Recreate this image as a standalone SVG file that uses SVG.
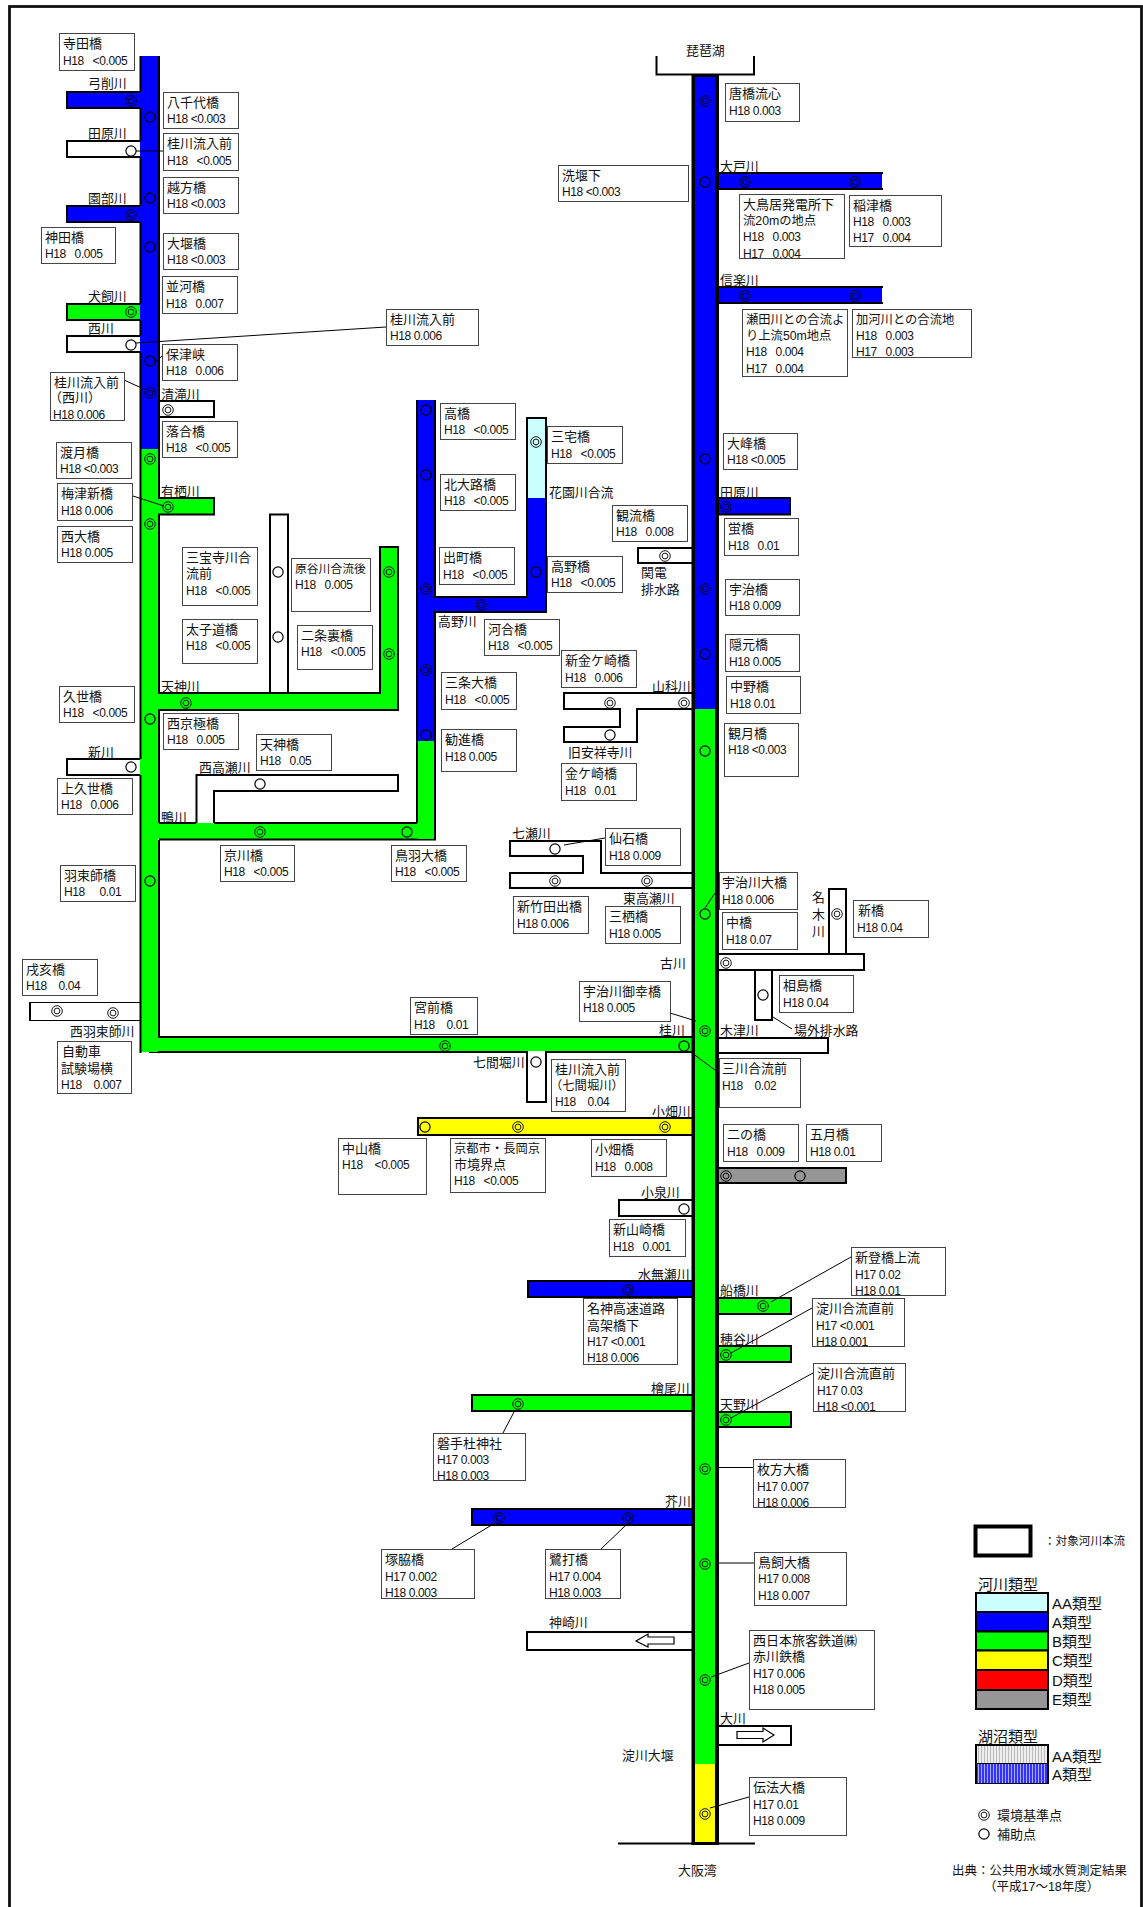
<svg xmlns="http://www.w3.org/2000/svg" width="1143" height="1907" viewBox="0 0 1143 1907">
<style>
text{font-family:"Liberation Sans","Noto Sans CJK JP",sans-serif;fill:#111;white-space:pre}
.n{font-size:13px}
.s{font-size:12.3px}
.v{font-size:12px;letter-spacing:-.4px}
.r{font-size:12.9px}
.l{font-size:15px}
.b{fill:#fff;stroke:#444;stroke-width:1}
.k{stroke:#000;stroke-width:2}
.bl{fill:#00f}.gr{fill:#0f0}.ye{fill:#ff0}.wh{fill:#fff}.cy{fill:#cff}.re{fill:#f00}.gy{fill:#969696}
.ln{fill:none;stroke:#000;stroke-width:2}
.ld{fill:none;stroke:#000;stroke-width:1}
.m{fill:none;stroke:#000}
</style>
<defs>
<g id="d"><circle class="m" r="5.3" stroke-width=".9"/><circle class="m" r="2.9" stroke-width=".9"/></g>
<circle id="o" class="m" r="5.1" stroke-width="1.2"/>
<pattern id="pg" width="3" height="10" patternUnits="userSpaceOnUse"><rect width="3" height="10" fill="#eee"/><rect width="1" height="10" fill="#bbb"/></pattern>
<pattern id="pb" width="3" height="10" patternUnits="userSpaceOnUse"><rect width="3" height="10" fill="#33f"/><rect width="1" height="10" fill="#aaf"/></pattern>
</defs>
<rect width="1143" height="1907" fill="#fff"/>
<rect x="9.5" y="6.5" width="1132" height="1905" fill="none" stroke="#111" stroke-width="2.8"/>
<g id="rivers">
<path class="bl k" d="M67 92H150V108H67Z"/>
<path class="wh k" d="M67 141H150V157H67Z"/>
<path class="bl k" d="M67 206H150V222H67Z"/>
<path class="gr k" d="M67 304H150V320H67Z"/>
<path class="wh k" d="M67 336H150V352H67Z"/>
<path class="wh k" d="M150 401H214V417H150Z"/>
<path class="gr k" d="M150 498H214V514.500H150Z"/>
<path class="wh k" d="M270 514.500H288V700H270Z"/>
<path class="gr k" d="M150 693H380V547H398V710H150Z"/>
<path class="wh k" d="M67 759H150V775H67Z"/>
<path class="wh" d="M30 1002H150V1020H30Z"/>
<path class="ld" d="M30 1002.500H150M30 1020.500H150"/><path class="ln" d="M30 1002V1021"/>
<rect class="gr" x="150" y="823" width="284" height="16"/>
<path class="wh" d="M197 824V775H398V791H214V824Z"/>
<path class="ln" d="M196.500 823V775H398V791H214V823"/>
<rect class="gr" x="197" y="823" width="16" height="3"/>
<path class="ln" d="M159 823H196M214 823H417M159 839.500H436"/>
<path class="bl k" d="M430 597H527V418H546V612H430Z"/>
<rect class="cy" x="528" y="419" width="17" height="79"/>
<path class="gr k" d="M150 1037H700V1052H150Z"/>
<path class="wh" d="M528 1051H545V1101H528Z"/>
<path class="ln" d="M527 1052V1102H546V1052"/>
<rect class="bl" x="140" y="56" width="18" height="393"/>
<rect class="gr" x="140" y="449" width="18" height="603"/>
<path class="ln" d="M140.500 56V92M140.500 108V141M140.500 157V206M140.500 222V304M140.500 320V336M140.500 352V759M140.500 775V1053M159 56V498M159 514V693M159 710V823M159 840V1037"/>
<rect class="bl" x="418" y="400" width="16" height="341"/>
<rect class="gr" x="418" y="741" width="16" height="98"/>
<path class="ln" d="M417 400V823M435 400V597M435 612V840"/>
<path class="wh k" d="M700 548H638V563H700"/>
<path class="wh k" d="M700 693H564V709H620V727H564V742H637V709H700Z"/>
<path class="wh k" d="M700 873H601V841H510V856H583V873H510V888H700Z"/>
<path class="ye k" d="M418 1118H700V1135H418Z"/>
<path class="wh k" d="M619 1200H700V1216H619Z"/>
<path class="bl k" d="M528 1281H700V1297H528Z"/>
<path class="gr k" d="M472 1395H700V1411H472Z"/>
<path class="bl k" d="M472 1509H700V1525H472Z"/>
<path class="wh k" d="M527 1632H700V1650H527Z"/>
<rect class="bl" x="710" y="173" width="172" height="16"/><path class="ln" d="M710 173H883M710 189H883"/>
<rect class="bl" x="710" y="287" width="172" height="16"/><path class="ln" d="M710 287H883M710 303H883"/>
<path class="bl k" d="M710 498H790V514.500H710Z"/>
<path class="wh k" d="M829 889H846V960H829Z"/>
<path class="wh k" d="M755 965H772V1020H755Z"/>
<path class="wh k" d="M710 954H864V970H710Z"/>
<path class="wh k" d="M710 1038H828V1053H710Z"/>
<path class="gy k" d="M710 1168H846V1183H710Z"/>
<path class="gr k" d="M710 1298H791V1314H710Z"/>
<path class="gr k" d="M710 1346H791V1362H710Z"/>
<path class="gr k" d="M710 1412H791V1427H710Z"/>
<path class="wh k" d="M710 1726H791V1745H710Z"/>
<path class="wh" stroke="#000" stroke-width="1.200" d="M636 1641L648 1634V1637H674V1644H648V1647Z"/>
<path class="wh" stroke="#000" stroke-width="1.200" d="M774 1735L763 1728V1731.500H737V1738.500H763V1742Z"/>
<rect x="691.500" y="74" width="27.500" height="1771" fill="#000"/>
<rect class="bl" x="695" y="77" width="20" height="632"/>
<rect class="gr" x="695" y="709" width="20" height="1055"/>
<rect class="ye" x="695" y="1764" width="20" height="78"/>
<path class="ln" d="M656.500 56V74.500H754V56M618 1843.500H755"/>
</g>
<g id="connectors">
<path class="ld" d="M136 151H163M136 343L386 327M162 356L154 363M124 380L146 390M133 496L164 506M605 838L564 845M715 893L705 908M670 1013L696 1021M692 1053L719 1073M773 1017L792 1029M851 1257L771 1302M812 1308L731 1353M813 1373L731 1418M514 1412L503 1433M719 1467.500H753M495 1523L452 1549M625 1526L601 1549M719 1563H754M711 1677L749 1663M710 1808L749 1797"/>
</g>
<g id="markers">
<use href="#d" x="131" y="101"/><use href="#o" x="150" y="117"/>
<use href="#o" x="131" y="151"/><use href="#o" x="150" y="198"/>
<use href="#d" x="131" y="215"/><use href="#o" x="150" y="247"/>
<use href="#d" x="131" y="312"/><use href="#o" x="131" y="345"/>
<use href="#o" x="150" y="361"/><use href="#d" x="150" y="393"/>
<use href="#d" x="168" y="410"/><use href="#d" x="150" y="459"/>
<use href="#d" x="168" y="507"/><use href="#d" x="150" y="524"/>
<use href="#o" x="278" y="572"/><use href="#o" x="278" y="637"/>
<use href="#d" x="389" y="572"/><use href="#d" x="389" y="654"/>
<use href="#d" x="186" y="703"/><use href="#o" x="150" y="719"/>
<use href="#o" x="131" y="767"/><use href="#o" x="260" y="784"/>
<use href="#d" x="260" y="832"/><use href="#o" x="407" y="832"/>
<use href="#o" x="150" y="881"/>
<use href="#d" x="57" y="1011"/><use href="#d" x="113" y="1013"/>
<use href="#o" x="426" y="410"/><use href="#o" x="426" y="475"/>
<use href="#d" x="426" y="589"/><use href="#d" x="426" y="670"/><use href="#o" x="426" y="735"/>
<use href="#d" x="481" y="605"/><use href="#d" x="536" y="442"/><use href="#o" x="536" y="572"/>
<use href="#d" x="705" y="101"/><use href="#o" x="705" y="182"/>
<use href="#d" x="745" y="182"/><use href="#d" x="855" y="182"/>
<use href="#d" x="745" y="296"/><use href="#d" x="855" y="296"/>
<use href="#o" x="705" y="459"/><use href="#d" x="726" y="507"/>
<use href="#d" x="665" y="556"/><use href="#d" x="705" y="589"/><use href="#o" x="705" y="654"/>
<use href="#d" x="610" y="703"/><use href="#d" x="684" y="703"/><use href="#o" x="610" y="735"/>
<use href="#o" x="705" y="751"/>
<use href="#o" x="555" y="849"/><use href="#d" x="555" y="881"/><use href="#d" x="647" y="881"/>
<use href="#o" x="705" y="914"/><use href="#d" x="837" y="914"/><use href="#d" x="726" y="963"/>
<use href="#o" x="763" y="995"/><use href="#d" x="705" y="1031"/>
<use href="#d" x="445" y="1046"/><use href="#o" x="684" y="1046"/><use href="#o" x="536" y="1062"/>
<use href="#o" x="425" y="1127"/><use href="#d" x="518" y="1127"/><use href="#d" x="665" y="1127"/>
<use href="#d" x="726" y="1176"/><use href="#o" x="800" y="1176"/>
<use href="#o" x="684" y="1209"/><use href="#d" x="628" y="1290"/>
<use href="#d" x="763" y="1306"/><use href="#d" x="726" y="1355"/><use href="#d" x="726" y="1420"/>
<use href="#d" x="518" y="1404"/><use href="#d" x="705" y="1469"/>
<use href="#d" x="499" y="1518"/><use href="#d" x="628" y="1518"/>
<use href="#d" x="705" y="1564"/><use href="#d" x="705" y="1680"/><use href="#d" x="705" y="1814"/>
</g>
<g id="river-labels" class="r">
<text x="88" y="88">弓削川</text><text x="88" y="138">田原川</text><text x="88" y="203">園部川</text>
<text x="88" y="301">犬飼川</text><text x="88" y="333">西川</text><text x="161" y="399">清滝川</text>
<text x="161" y="496">有栖川</text><text x="161" y="691">天神川</text><text x="88" y="757">新川</text>
<text x="161" y="822">鴨川</text><text x="199" y="772">西高瀬川</text><text x="438" y="626">高野川</text>
<text x="549" y="497">花園川合流</text><text x="641" y="577">関電</text><text x="641" y="594">排水路</text>
<text x="652" y="691">山科川</text><text x="568" y="757">旧安祥寺川</text><text x="512" y="838">七瀬川</text>
<text x="623" y="903">東高瀬川</text><text x="812" y="902">名</text><text x="812" y="919">木</text><text x="812" y="936">川</text>
<text x="660" y="968">古川</text><text x="720" y="171">大戸川</text><text x="720" y="285">信楽川</text><text x="720" y="497">田原川</text>
<text x="720" y="1035">木津川</text><text x="794" y="1035">場外排水路</text><text x="659" y="1035">桂川</text>
<text x="473" y="1067">七間堀川</text><text x="652" y="1116">小畑川</text><text x="641" y="1197">小泉川</text>
<text x="638" y="1279">水無瀬川</text><text x="720" y="1295">船橋川</text><text x="720" y="1344">穂谷川</text>
<text x="720" y="1409">天野川</text><text x="651" y="1393">檜尾川</text><text x="665" y="1506">芥川</text>
<text x="549" y="1627">神崎川</text><text x="720" y="1723">大川</text><text x="622" y="1760">淀川大堰</text>
<text x="678" y="1875">大阪湾</text><text x="686" y="55">琵琶湖</text><text x="70" y="1036">西羽束師川</text>
</g>
<g id="n01"><rect class="b" x="59.500" y="33.500" width="75" height="37"/><text class="n" x="63" y="48">寺田橋</text><text class="v" x="63" y="65">H18   &lt;0.005</text></g>
<g id="n02"><rect class="b" x="163.500" y="92.500" width="75" height="36"/><text class="n" x="167" y="107">八千代橋</text><text class="v" x="167" y="123">H18 &lt;0.003</text></g>
<g id="n03"><rect class="b" x="163.500" y="133.500" width="75" height="37"/><text class="n" x="167" y="148">桂川流入前</text><text class="v" x="167" y="165">H18   &lt;0.005</text></g>
<g id="n04"><rect class="b" x="163.500" y="177.500" width="75" height="36"/><text class="n" x="167" y="192">越方橋</text><text class="v" x="167" y="208">H18 &lt;0.003</text></g>
<g id="n05"><rect class="b" x="41.500" y="227.500" width="74" height="36"/><text class="n" x="45" y="242">神田橋</text><text class="v" x="45" y="258">H18   0.005</text></g>
<g id="n06"><rect class="b" x="163.500" y="233.500" width="75" height="36"/><text class="n" x="167" y="248">大堰橋</text><text class="v" x="167" y="264">H18 &lt;0.003</text></g>
<g id="n07"><rect class="b" x="162.500" y="276.500" width="75" height="37"/><text class="n" x="166" y="291">並河橋</text><text class="v" x="166" y="308">H18   0.007</text></g>
<g id="n08"><rect class="b" x="386.500" y="309.500" width="92" height="36"/><text class="n" x="390" y="324">桂川流入前</text><text class="v" x="390" y="340">H18 0.006</text></g>
<g id="n09"><rect class="b" x="162.500" y="344.500" width="75" height="36"/><text class="n" x="166" y="359">保津峡</text><text class="v" x="166" y="375">H18   0.006</text></g>
<g id="n10"><rect class="b" x="50.500" y="372.500" width="74" height="48"/><text class="n" x="54" y="387">桂川流入前</text><text class="n" x="49" y="402">（西川）</text><text class="v" x="53" y="419">H18 0.006</text></g>
<g id="n11"><rect class="b" x="162.500" y="421.500" width="75" height="36"/><text class="n" x="166" y="436">落合橋</text><text class="v" x="166" y="452">H18   &lt;0.005</text></g>
<g id="n12"><rect class="b" x="56.500" y="442.500" width="75" height="36"/><text class="n" x="60" y="457">渡月橋</text><text class="v" x="60" y="473">H18 &lt;0.003</text></g>
<g id="n13"><rect class="b" x="57.500" y="483.500" width="75" height="37"/><text class="n" x="61" y="498">梅津新橋</text><text class="v" x="61" y="515">H18 0.006</text></g>
<g id="n14"><rect class="b" x="57.500" y="526.500" width="75" height="36"/><text class="n" x="61" y="541">西大橋</text><text class="v" x="61" y="557">H18 0.005</text></g>
<g id="n15"><rect class="b" x="182.500" y="547.500" width="75" height="58"/><text class="n" x="186" y="562">三宝寺川合</text><text class="n" x="186" y="578">流前</text><text class="v" x="186" y="595">H18   &lt;0.005</text></g>
<g id="n16"><rect class="b" x="182.500" y="619.500" width="75" height="44"/><text class="n" x="186" y="634">太子道橋</text><text class="v" x="186" y="650">H18   &lt;0.005</text></g>
<g id="n17"><rect class="b" x="291.500" y="558.500" width="79" height="53"/><text class="n" x="295" y="573" style="font-size:11.800px">原谷川合流後</text><text class="v" x="295" y="589">H18   0.005</text></g>
<g id="n18"><rect class="b" x="297.500" y="625.500" width="75" height="44"/><text class="n" x="301" y="640">二条裏橋</text><text class="v" x="301" y="656">H18   &lt;0.005</text></g>
<g id="n19"><rect class="b" x="59.500" y="686.500" width="75" height="36"/><text class="n" x="63" y="701">久世橋</text><text class="v" x="63" y="717">H18   &lt;0.005</text></g>
<g id="n20"><rect class="b" x="163.500" y="713.500" width="75" height="36"/><text class="n" x="167" y="728">西京極橋</text><text class="v" x="167" y="744">H18   0.005</text></g>
<g id="n21"><rect class="b" x="256.500" y="734.500" width="75" height="36"/><text class="n" x="260" y="749">天神橋</text><text class="v" x="260" y="765">H18   0.05</text></g>
<g id="n22"><rect class="b" x="57.500" y="778.500" width="75" height="36"/><text class="n" x="61" y="793">上久世橋</text><text class="v" x="61" y="809">H18   0.006</text></g>
<g id="n23"><rect class="b" x="220.500" y="845.500" width="74" height="36"/><text class="n" x="224" y="860">京川橋</text><text class="v" x="224" y="876">H18   &lt;0.005</text></g>
<g id="n24"><rect class="b" x="391.500" y="845.500" width="75" height="36"/><text class="n" x="395" y="860">鳥羽大橋</text><text class="v" x="395" y="876">H18   &lt;0.005</text></g>
<g id="n25"><rect class="b" x="60.500" y="865.500" width="75" height="36"/><text class="n" x="64" y="880">羽束師橋</text><text class="v" x="64" y="896">H18     0.01</text></g>
<g id="n26"><rect class="b" x="22.500" y="959.500" width="75" height="36"/><text class="n" x="26" y="974">戌亥橋</text><text class="v" x="26" y="990">H18    0.04</text></g>
<g id="n27"><rect class="b" x="57.500" y="1041.500" width="74" height="52"/><text class="n" x="62" y="1056">自動車</text><text class="n" x="61" y="1073">試験場横</text><text class="v" x="61" y="1089">H18    0.007</text></g>
<g id="n28"><rect class="b" x="440.500" y="403.500" width="75" height="36"/><text class="n" x="444" y="418">高橋</text><text class="v" x="444" y="434">H18   &lt;0.005</text></g>
<g id="n29"><rect class="b" x="440.500" y="474.500" width="75" height="36"/><text class="n" x="444" y="489">北大路橋</text><text class="v" x="444" y="505">H18   &lt;0.005</text></g>
<g id="n30"><rect class="b" x="439.500" y="547.500" width="75" height="37"/><text class="n" x="443" y="562">出町橋</text><text class="v" x="443" y="579">H18   &lt;0.005</text></g>
<g id="n31"><rect class="b" x="484.500" y="619.500" width="75" height="36"/><text class="n" x="488" y="634">河合橋</text><text class="v" x="488" y="650">H18   &lt;0.005</text></g>
<g id="n32"><rect class="b" x="441.500" y="672.500" width="75" height="37"/><text class="n" x="445" y="687">三条大橋</text><text class="v" x="445" y="704">H18   &lt;0.005</text></g>
<g id="n33"><rect class="b" x="441.500" y="729.500" width="75" height="42"/><text class="n" x="445" y="744">勧進橋</text><text class="v" x="445" y="761">H18 0.005</text></g>
<g id="n34"><rect class="b" x="547.500" y="426.500" width="75" height="37"/><text class="n" x="551" y="441">三宅橋</text><text class="v" x="551" y="458">H18   &lt;0.005</text></g>
<g id="n35"><rect class="b" x="547.500" y="556.500" width="75" height="36"/><text class="n" x="551" y="571">高野橋</text><text class="v" x="551" y="587">H18   &lt;0.005</text></g>
<g id="n36"><rect class="b" x="612.500" y="505.500" width="75" height="36"/><text class="n" x="616" y="520">観流橋</text><text class="v" x="616" y="536">H18   0.008</text></g>
<g id="n37"><rect class="b" x="725.500" y="83.500" width="74" height="38"/><text class="n" x="729" y="98">唐橋流心</text><text class="v" x="729" y="115">H18 0.003</text></g>
<g id="n38"><rect class="b" x="558.500" y="165.500" width="130" height="36"/><text class="n" x="562" y="180">洗堰下</text><text class="v" x="562" y="196">H18 &lt;0.003</text></g>
<g id="n39"><rect class="b" x="739.500" y="194.500" width="105" height="64"/><text class="n" x="743" y="209">大鳥居発電所下</text><text class="s" x="743" y="225">流20mの地点</text><text class="v" x="743" y="241">H18   0.003</text><text class="v" x="743" y="258">H17   0.004</text></g>
<g id="n40"><rect class="b" x="849.500" y="195.500" width="92" height="51"/><text class="n" x="853" y="210">稲津橋</text><text class="v" x="853" y="226">H18   0.003</text><text class="v" x="853" y="242">H17   0.004</text></g>
<g id="n41"><rect class="b" x="742.500" y="309.500" width="105" height="67"/><text class="s" x="746" y="324">瀬田川との合流よ</text><text class="s" x="746" y="340">り上流50m地点</text><text class="v" x="746" y="356">H18   0.004</text><text class="v" x="746" y="373">H17   0.004</text></g>
<g id="n42"><rect class="b" x="852.500" y="309.500" width="119" height="48"/><text class="s" x="856" y="324">加河川との合流地</text><text class="v" x="856" y="340">H18   0.003</text><text class="v" x="856" y="356">H17   0.003</text></g>
<g id="n43"><rect class="b" x="723.500" y="433.500" width="74" height="36"/><text class="n" x="727" y="448">大峰橋</text><text class="v" x="727" y="464">H18 &lt;0.005</text></g>
<g id="n44"><rect class="b" x="724.500" y="518.500" width="74" height="37"/><text class="n" x="728" y="533">蛍橋</text><text class="v" x="728" y="550">H18   0.01</text></g>
<g id="n45"><rect class="b" x="725.500" y="579.500" width="74" height="36"/><text class="n" x="729" y="594">宇治橋</text><text class="v" x="729" y="610">H18 0.009</text></g>
<g id="n46"><rect class="b" x="725.500" y="634.500" width="74" height="37"/><text class="n" x="729" y="649">隠元橋</text><text class="v" x="729" y="666">H18 0.005</text></g>
<g id="n47"><rect class="b" x="726.500" y="676.500" width="74" height="37"/><text class="n" x="730" y="691">中野橋</text><text class="v" x="730" y="708">H18 0.01</text></g>
<g id="n48"><rect class="b" x="724.500" y="723.500" width="74" height="53"/><text class="n" x="728" y="738">観月橋</text><text class="v" x="728" y="754">H18 &lt;0.003</text></g>
<g id="n49"><rect class="b" x="561.500" y="650.500" width="75" height="37"/><text class="n" x="565" y="665">新金ケ崎橋</text><text class="v" x="565" y="682">H18   0.006</text></g>
<g id="n50"><rect class="b" x="561.500" y="763.500" width="75" height="37"/><text class="n" x="565" y="778">金ケ崎橋</text><text class="v" x="565" y="795">H18   0.01</text></g>
<g id="n51"><rect class="b" x="605.500" y="828.500" width="75" height="37"/><text class="n" x="609" y="843">仙石橋</text><text class="v" x="609" y="860">H18 0.009</text></g>
<g id="n52"><rect class="b" x="513.500" y="896.500" width="75" height="37"/><text class="n" x="517" y="911">新竹田出橋</text><text class="v" x="517" y="928">H18 0.006</text></g>
<g id="n53"><rect class="b" x="605.500" y="906.500" width="75" height="37"/><text class="n" x="609" y="921">三栖橋</text><text class="v" x="609" y="938">H18 0.005</text></g>
<g id="n54"><rect class="b" x="719.500" y="872.500" width="78" height="37"/><text class="n" x="722" y="887">宇治川大橋</text><text class="v" x="722" y="904">H18 0.006</text></g>
<g id="n55"><rect class="b" x="722.500" y="912.500" width="75" height="37"/><text class="n" x="726" y="927">中橋</text><text class="v" x="726" y="944">H18 0.07</text></g>
<g id="n56"><rect class="b" x="853.500" y="900.500" width="75" height="37"/><text class="n" x="858" y="915">新橋</text><text class="v" x="857" y="932">H18 0.04</text></g>
<g id="n57"><rect class="b" x="779.500" y="975.500" width="74" height="37"/><text class="n" x="783" y="990">相島橋</text><text class="v" x="783" y="1007">H18 0.04</text></g>
<g id="n58"><rect class="b" x="410.500" y="997.500" width="67" height="37"/><text class="n" x="414" y="1012">宮前橋</text><text class="v" x="414" y="1029">H18    0.01</text></g>
<g id="n59"><rect class="b" x="579.500" y="981.500" width="91" height="40"/><text class="n" x="583" y="996">宇治川御幸橋</text><text class="v" x="583" y="1012">H18 0.005</text></g>
<g id="n60"><rect class="b" x="719.500" y="1058.500" width="81" height="49"/><text class="n" x="722" y="1073">三川合流前</text><text class="v" x="722" y="1090">H18    0.02</text></g>
<g id="n61"><rect class="b" x="551.500" y="1059.500" width="74" height="52"/><text class="n" x="555" y="1074">桂川流入前</text><text class="s" x="550" y="1090">（七間堀川）</text><text class="v" x="555" y="1106">H18    0.04</text></g>
<g id="n62"><rect class="b" x="723.500" y="1124.500" width="75" height="37"/><text class="n" x="727" y="1139">二の橋</text><text class="v" x="727" y="1156">H18   0.009</text></g>
<g id="n63"><rect class="b" x="806.500" y="1124.500" width="75" height="37"/><text class="n" x="810" y="1139">五月橋</text><text class="v" x="810" y="1156">H18 0.01</text></g>
<g id="n64"><rect class="b" x="338.500" y="1138.500" width="88" height="56"/><text class="n" x="342" y="1153">中山橋</text><text class="v" x="342" y="1169">H18    &lt;0.005</text></g>
<g id="n65"><rect class="b" x="450.500" y="1138.500" width="95" height="54"/><text class="s" x="454" y="1153">京都市・長岡京</text><text class="n" x="454" y="1169">市境界点</text><text class="v" x="454" y="1185">H18   &lt;0.005</text></g>
<g id="n66"><rect class="b" x="591.500" y="1139.500" width="75" height="37"/><text class="n" x="595" y="1154">小畑橋</text><text class="v" x="595" y="1171">H18   0.008</text></g>
<g id="n67"><rect class="b" x="609.500" y="1219.500" width="76" height="37"/><text class="n" x="613" y="1234">新山崎橋</text><text class="v" x="613" y="1251">H18   0.001</text></g>
<g id="n68"><rect class="b" x="851.500" y="1247.500" width="94" height="48"/><text class="n" x="855" y="1262">新登橋上流</text><text class="v" x="855" y="1279">H17 0.02</text><text class="v" x="855" y="1295">H18 0.01</text></g>
<g id="n69"><rect class="b" x="812.500" y="1298.500" width="92" height="48"/><text class="n" x="816" y="1313">淀川合流直前</text><text class="v" x="816" y="1330">H17 &lt;0.001</text><text class="v" x="816" y="1346">H18 0.001</text></g>
<g id="n70"><rect class="b" x="813.500" y="1363.500" width="92" height="48"/><text class="n" x="817" y="1378">淀川合流直前</text><text class="v" x="817" y="1395">H17 0.03</text><text class="v" x="817" y="1411">H18 &lt;0.001</text></g>
<g id="n71"><rect class="b" x="583.500" y="1298.500" width="94" height="66"/><text class="n" x="587" y="1313">名神高速道路</text><text class="n" x="587" y="1330">高架橋下</text><text class="v" x="587" y="1346">H17 &lt;0.001</text><text class="v" x="587" y="1362">H18 0.006</text></g>
<g id="n72"><rect class="b" x="433.500" y="1433.500" width="92" height="47"/><text class="n" x="437" y="1448">磐手杜神社</text><text class="v" x="437" y="1464">H17 0.003</text><text class="v" x="437" y="1480">H18 0.003</text></g>
<g id="n73"><rect class="b" x="753.500" y="1459.500" width="92" height="48"/><text class="n" x="757" y="1474">枚方大橋</text><text class="v" x="757" y="1491">H17 0.007</text><text class="v" x="757" y="1507">H18 0.006</text></g>
<g id="n74"><rect class="b" x="381.500" y="1549.500" width="93" height="49"/><text class="n" x="385" y="1564">塚脇橋</text><text class="v" x="385" y="1581">H17 0.002</text><text class="v" x="385" y="1597">H18 0.003</text></g>
<g id="n75"><rect class="b" x="545.500" y="1549.500" width="75" height="49"/><text class="n" x="549" y="1564">鷺打橋</text><text class="v" x="549" y="1581">H17 0.004</text><text class="v" x="549" y="1597">H18 0.003</text></g>
<g id="n76"><rect class="b" x="754.500" y="1552.500" width="92" height="53"/><text class="n" x="758" y="1567">鳥飼大橋</text><text class="v" x="758" y="1583">H17 0.008</text><text class="v" x="758" y="1600">H18 0.007</text></g>
<g id="n77"><rect class="b" x="749.500" y="1630.500" width="125" height="79"/><text class="n" x="753" y="1645">西日本旅客鉄道㈱</text><text class="n" x="753" y="1661">赤川鉄橋</text><text class="v" x="753" y="1678">H17 0.006</text><text class="v" x="753" y="1694">H18 0.005</text></g>
<g id="n78"><rect class="b" x="749.500" y="1777.500" width="97" height="58"/><text class="n" x="753" y="1792">伝法大橋</text><text class="v" x="753" y="1809">H17 0.01</text><text class="v" x="753" y="1825">H18 0.009</text></g>
<g id="legend">
<rect x="975.500" y="1526.500" width="55" height="29" fill="#fff" stroke="#000" stroke-width="4"/>
<text class="n" x="1044" y="1545" style="font-size:11.600px">：対象河川本流</text>
<text class="l" x="978" y="1590">河川類型</text>
<g class="k">
<rect class="cy" x="976" y="1593" width="72" height="19"/>
<rect class="bl" x="976" y="1612" width="72" height="19.500"/>
<rect class="gr" x="976" y="1631.500" width="72" height="19"/>
<rect class="ye" x="976" y="1650.500" width="72" height="19.500"/>
<rect class="re" x="976" y="1670" width="72" height="20"/>
<rect class="gy" x="976" y="1690" width="72" height="19"/>
</g>
<g class="l">
<text x="1052" y="1609">AA類型</text><text x="1052" y="1628">A類型</text><text x="1052" y="1647">B類型</text><text x="1052" y="1666">C類型</text><text x="1052" y="1686">D類型</text><text x="1052" y="1705">E類型</text>
</g>
<text class="l" x="978" y="1742">湖沼類型</text>
<rect x="976" y="1745" width="72" height="19" fill="url(#pg)" class="k"/>
<rect x="976" y="1764" width="72" height="19" fill="url(#pb)"/>
<path class="ln" d="M976 1764V1784M1048 1764V1784" stroke-width="1.500"/>
<path class="ld" d="M976 1783.500H1048"/>
<text class="l" x="1052" y="1762">AA類型</text><text class="l" x="1052" y="1780">A類型</text>
<use href="#d" x="984" y="1815"/><text class="n" x="997" y="1820">環境基準点</text>
<use href="#o" x="984" y="1834"/><text class="n" x="997" y="1839">補助点</text>
<text class="s" x="952" y="1875" style="font-size:12.500px">出典：公共用水域水質測定結果</text>
<text class="s" x="984" y="1891" style="font-size:12.500px">（平成17～18年度）</text>
</g>
</svg>
